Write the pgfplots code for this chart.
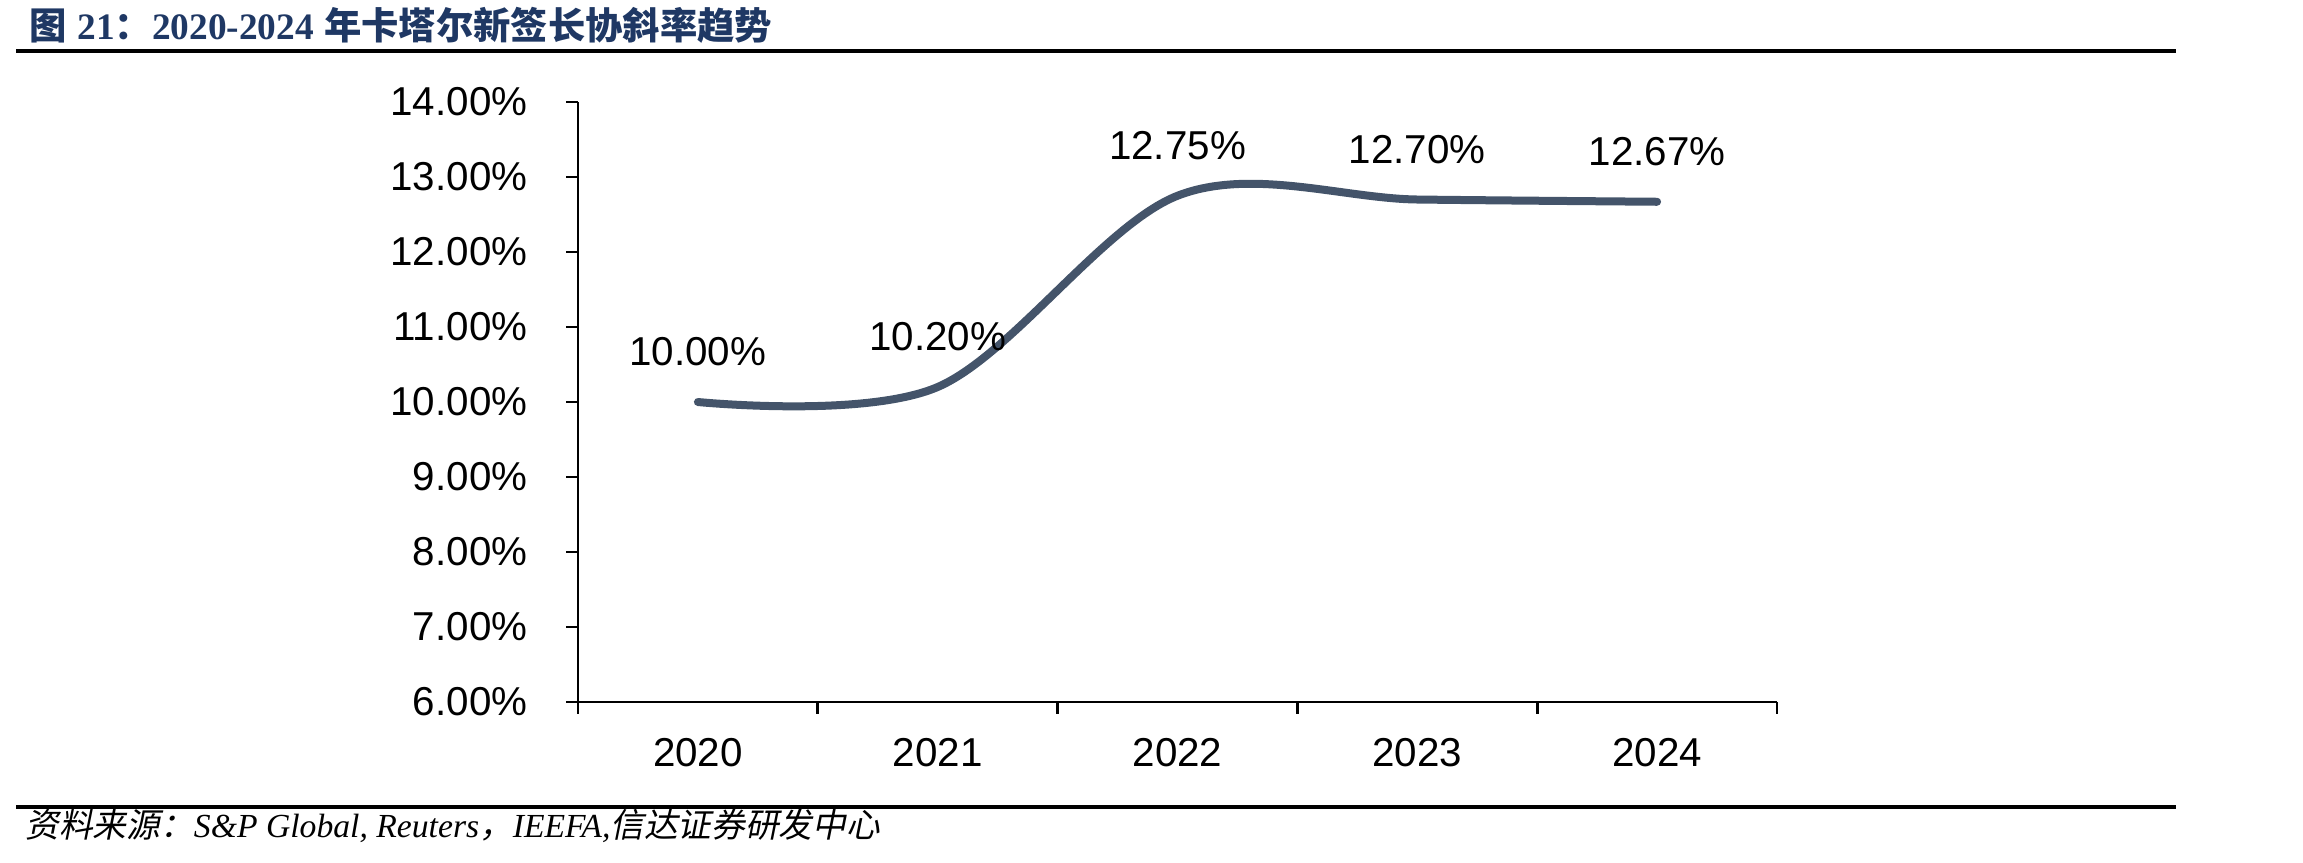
\documentclass[border=0pt]{standalone}
\usepackage{pgfplots}
\pgfplotsset{compat=1.18}
\usepackage{fontspec}
\setmainfont{Liberation Sans}
\newfontfamily\cjk{Noto Sans CJK SC}
\newfontfamily\cjkit[FakeSlant=0.2]{Noto Sans CJK SC}
\newfontfamily\serif{Liberation Serif}
\definecolor{linec}{HTML}{44546A}
\definecolor{titlec}{HTML}{1F3864}
\begin{document}
\begin{tikzpicture}
\path[use as bounding box] (0pt,0pt) rectangle (690.9pt,-258.9pt);
% title
\node[anchor=base west, inner sep=0pt, text=titlec, font=\fontsize{11.2}{12}\selectfont\bfseries] at (8.7pt,-12pt)
  {{\cjk 图} {\serif 21}{\cjk ：}{\serif 2020-2024} {\cjk 年卡塔尔新签长协斜率趋势}};
\draw[line width=1.2pt] (4.8pt,-15.3pt) -- (652.8pt,-15.3pt);
\draw[line width=1.2pt] (4.8pt,-242.1pt) -- (652.8pt,-242.1pt);
\node[anchor=base west, inner sep=0pt, font=\fontsize{10.1}{11}\selectfont] at (7.5pt,-251.4pt)
  {{\cjkit 资料来源：}{\serif\itshape S\&P Global, Reuters}{\cjkit ，}{\serif\itshape IEEFA,}{\cjkit 信达证券研发中心}};
\begin{axis}[
  at={(173.4pt,-210.6pt)}, anchor=south west,
  scale only axis, width=359.7pt, height=180pt,
  xmin=-0.5, xmax=4.5, ymin=6, ymax=14,
  axis x line=bottom, axis y line=left,
  axis line style={-, line width=0.8pt, black},
  tick align=outside,
  major tick length=3.6pt, minor tick length=3.6pt,
  every tick/.style={black, line width=0.8pt},
  xtick={0,1,2,3,4},
  xticklabels={2020,2021,2022,2023,2024},
  major x tick style={draw=none},
  minor xtick={-0.5,0.5,1.5,2.5,3.5,4.5},
  ytick={6,7,8,9,10,11,12,13,14},
  yticklabels={6.00\%,7.00\%,8.00\%,9.00\%,10.00\%,11.00\%,12.00\%,13.00\%,14.00\%},
  ticklabel style={font=\fontsize{12.1}{13}\selectfont},
  yticklabel style={anchor=east, inner sep=0pt, xshift=-11.4pt},
  xticklabel style={anchor=base, inner sep=0pt, yshift=-15.6pt},
  /pgf/number format/assume math mode=true,
  clip=false,
]
\addplot[linec, line width=2.4pt, line cap=round, smooth, tension=0.55,
  nodes near coords={\pgfmathprintnumber[fixed,fixed zerofill,precision=2,assume math mode=true]{\pgfplotspointmeta}\%},
  point meta=y,
  every node near coord/.style={anchor=center, yshift=15pt, text=black, font=\fontsize{12.1}{13}\selectfont, inner sep=0pt}]
  coordinates {(0,10.00) (1,10.20) (2,12.75) (3,12.70) (4,12.67)};
\end{axis}
\end{tikzpicture}
\end{document}
